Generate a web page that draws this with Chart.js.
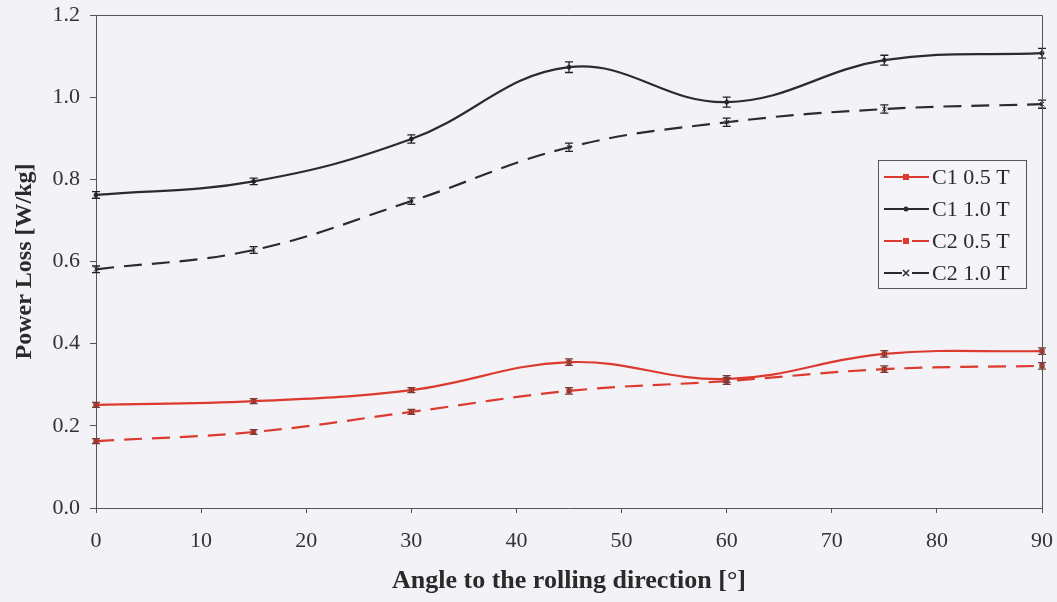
<!DOCTYPE html>
<html>
<head>
<meta charset="utf-8">
<script src="https://cdn.jsdelivr.net/npm/chart.js@4.4.1/dist/chart.umd.min.js"></script>
<style>
  html, body { margin: 0; padding: 0; background: #f2f2f7; }
  #wrap { width: 1057px; height: 602px; position: relative; }
</style>
</head>
<body>
<div id="wrap"><canvas id="c" width="1057" height="602"></canvas></div>
<script>
// ---- data ----
const angles = [0, 15, 30, 45, 60, 75, 90];
const c1_05 = [0.251, 0.260, 0.287, 0.355, 0.314, 0.375, 0.382];
const c1_10 = [0.762, 0.795, 0.898, 1.073, 0.988, 1.090, 1.107];
const c2_05 = [0.163, 0.185, 0.234, 0.285, 0.309, 0.338, 0.346];
const c2_10 = [0.581, 0.628, 0.747, 0.878, 0.939, 0.971, 0.983];
const err_c1_05 = [0.006, 0.006, 0.006, 0.008, 0.008, 0.008, 0.008];
const err_c1_10 = [0.008, 0.008, 0.010, 0.013, 0.012, 0.012, 0.012];
const err_c2_05 = [0.006, 0.006, 0.006, 0.008, 0.008, 0.008, 0.008];
const err_c2_10 = [0.008, 0.008, 0.008, 0.010, 0.010, 0.010, 0.010];
const seriesLabels = ['C1 0.5 T', 'C1 1.0 T', 'C2 0.5 T', 'C2 1.0 T'];
const xTickLabels = ['0', '10', '20', '30', '40', '50', '60', '70', '80', '90'];
const yTickLabels = ['0.0', '0.2', '0.4', '0.6', '0.8', '1.0', '1.2'];

const RED = '#dc3a2e';
const BLACK = '#2b2b2b';
const FONT = '"Liberation Serif", "Times New Roman", serif';

function pts(vals) { return angles.map((a, i) => ({ x: a, y: vals[i] })); }

const bgPlugin = {
  id: 'bg',
  beforeDraw(chart) {
    const ctx = chart.ctx;
    ctx.save();
    ctx.fillStyle = '#f2f2f7';
    ctx.fillRect(0, 0, chart.width, chart.height);
    ctx.restore();
  }
};

const framePlugin = {
  id: 'frame',
  afterDraw(chart) {
    const { ctx, chartArea: a } = chart;
    ctx.save();
    ctx.strokeStyle = '#555';
    ctx.lineWidth = 1;
    ctx.beginPath();
    ctx.moveTo(a.left, a.top + 0.5);
    ctx.lineTo(a.right + 0.5, a.top + 0.5);
    ctx.lineTo(a.right + 0.5, a.bottom + 5);
    ctx.stroke();
    ctx.restore();
  }
};

const errPlugin = {
  id: 'errbars',
  afterDatasetsDraw(chart) {
    const { ctx } = chart;
    const xs = chart.scales.x, ys = chart.scales.y;
    ctx.save();
    chart.data.datasets.forEach(ds => {
      if (!ds.err) return;
      ctx.strokeStyle = ds.errColor;
      ctx.lineWidth = 1.3;
      ds.data.forEach((p, i) => {
        const e = ds.err[i];
        const px = xs.getPixelForValue(p.x);
        const y1 = ys.getPixelForValue(p.y - e);
        const y2 = ys.getPixelForValue(p.y + e);
        ctx.beginPath();
        ctx.moveTo(px, y1); ctx.lineTo(px, y2);
        ctx.moveTo(px - 4, y1); ctx.lineTo(px + 4, y1);
        ctx.moveTo(px - 4, y2); ctx.lineTo(px + 4, y2);
        ctx.stroke();
      });
    });
    ctx.restore();
  }
};

const legendPlugin = {
  id: 'boxLegend',
  afterDraw(chart) {
    const ctx = chart.ctx;
    const bx = 878, by = 160, bw = 148, bh = 128;
    ctx.save();
    ctx.fillStyle = '#f5f5f9';
    ctx.fillRect(bx, by, bw, bh);
    ctx.strokeStyle = '#555';
    ctx.lineWidth = 1;
    ctx.strokeRect(bx + 0.5, by + 0.5, bw, bh);
    ctx.font = '22px ' + FONT;
    ctx.textBaseline = 'middle';
    ctx.textAlign = 'left';
    chart.data.datasets.forEach((ds, i) => {
      const cy = by + 17 + i * 32;
      ctx.strokeStyle = ds.borderColor;
      ctx.lineWidth = 2.2;
      ctx.setLineDash(ds.borderDash || []);
      ctx.beginPath();
      ctx.moveTo(884, cy); ctx.lineTo(929, cy);
      ctx.stroke();
      ctx.setLineDash([]);
      ctx.fillStyle = ds.pointBackgroundColor;
      ctx.strokeStyle = ds.pointBorderColor;
      ctx.lineWidth = 1;
      const mx = 906;
      if (ds.pointStyle === 'rect') {
        ctx.fillRect(mx - 3, cy - 3, 6, 6);
      } else if (ds.pointStyle === 'crossRot') {
        ctx.beginPath();
        ctx.moveTo(mx - 3, cy - 3); ctx.lineTo(mx + 3, cy + 3);
        ctx.moveTo(mx + 3, cy - 3); ctx.lineTo(mx - 3, cy + 3);
        ctx.lineWidth = 1.5;
        ctx.stroke();
      } else {
        ctx.beginPath(); ctx.arc(mx, cy, 2.5, 0, Math.PI * 2); ctx.fill();
      }
      ctx.fillStyle = '#2a2a2a';
      ctx.fillText(ds.label, 932, cy + 1);
    });
    ctx.restore();
  }
};

const mk = (label, vals, err, color, dash, style, radius) => ({
  label,
  data: pts(vals),
  err,
  errColor: color === RED ? '#7a3a35' : '#222',
  borderColor: color,
  backgroundColor: color,
  pointBackgroundColor: color,
  pointBorderColor: color === RED ? '#8a3a33' : color,
  pointBorderWidth: 1,
  pointStyle: style,
  pointRadius: radius,
  borderWidth: 2.2,
  borderDash: dash,
  tension: 0.4,
  fill: false,
  clip: false
});

function zeroPad(s) { s.paddingLeft = 0; s.paddingRight = 0; s.paddingTop = 0; s.paddingBottom = 0; }

new Chart(document.getElementById('c'), {
  type: 'line',
  data: {
    datasets: [
      mk(seriesLabels[0], c1_05, err_c1_05, RED, [], 'rect', 3),
      mk(seriesLabels[1], c1_10, err_c1_10, BLACK, [], 'circle', 2),
      mk(seriesLabels[2], c2_05, err_c2_05, RED, [18, 10], 'rect', 3),
      mk(seriesLabels[3], c2_10, err_c2_10, BLACK, [18, 10], 'crossRot', 3)
    ]
  },
  options: {
    responsive: false,
    animation: false,
    devicePixelRatio: 1,
    layout: { padding: { left: 0, top: 15, right: 15, bottom: 0 } },
    plugins: { legend: { display: false }, tooltip: { enabled: false } },
    scales: {
      x: {
        type: 'linear', min: 0, max: 90,
        afterFit(s) { s.height = 94; zeroPad(s); },
        afterBuildTicks(s) { s.ticks = xTickLabels.map(t => ({ value: Number(t) })); },
        ticks: {
          callback: (v, i) => xTickLabels[i],
          font: { family: FONT, size: 22 }, color: '#333', padding: 15, maxRotation: 0
        },
        grid: { display: true, drawOnChartArea: false, tickLength: 5, color: '#555' },
        border: { display: true, color: '#555', width: 1 },
        title: {
          display: true, text: 'Angle to the rolling direction [°]',
          font: { family: FONT, size: 26, weight: 'bold' }, color: '#2a2a2a',
          padding: { top: 2, bottom: 5 }
        }
      },
      y: {
        type: 'linear', min: 0, max: 1.2,
        afterFit(s) { s.width = 96; zeroPad(s); },
        afterBuildTicks(s) { s.ticks = yTickLabels.map(t => ({ value: Number(t) })); },
        ticks: {
          callback: (v, i) => yTickLabels[i],
          font: { family: FONT, size: 22 }, color: '#333', padding: 10
        },
        grid: { display: true, drawOnChartArea: false, tickLength: 6, color: '#555' },
        border: { display: true, color: '#555', width: 1 },
        title: {
          display: true, text: 'Power Loss [W/kg]',
          font: { family: FONT, size: 24, weight: 'bold' }, color: '#2a2a2a',
          padding: { top: 10, bottom: 0 }
        }
      }
    }
  },
  plugins: [bgPlugin, errPlugin, framePlugin, legendPlugin]
});
</script>
</body>
</html>
